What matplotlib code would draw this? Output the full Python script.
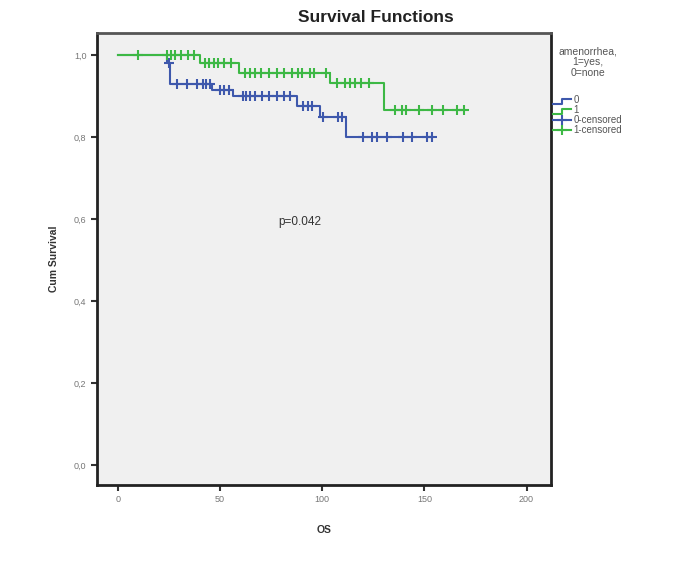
import numpy as np
import matplotlib
matplotlib.use("Agg")
import matplotlib.pyplot as plt
from matplotlib.lines import Line2D
from matplotlib.legend_handler import HandlerBase

plt.rcParams['font.family'] = ['Liberation Sans', 'DejaVu Sans']

# group 0 (amenorrhea = none)
t0_events = [0, 24, 25.5, 46, 56.5, 87.5, 99, 111.5]
s0_events = [1.0, 0.982, 0.930, 0.915, 0.900, 0.877, 0.848, 0.800]
t0_end = 153.5
t0_cens = [25, 29, 34, 38.5, 41.5, 43, 45, 50, 52, 54.5, 61, 62.5, 64.5, 67,
           70.5, 74, 78, 81.5, 84, 90.5, 93, 95, 100.5, 107.5, 109.5, 120,
           124.5, 127, 131.5, 139.5, 144, 151.5, 153.5]

# group 1 (amenorrhea = yes)
t1_events = [0, 40, 59, 104, 130]
s1_events = [1.0, 0.980, 0.956, 0.931, 0.866]
t1_end = 169.5
t1_cens = [10, 24, 26, 28, 31, 34.5, 37, 42.5, 44.5, 47, 49, 52, 55.5, 62,
           64.5, 67, 70, 74, 78, 81.5, 85, 88, 90, 94, 96, 102, 107, 111,
           113.5, 116, 119, 123, 135.5, 139, 141, 147.5, 153.5, 159, 166, 169.5]

yticks = [0.0, 0.2, 0.4, 0.6, 0.8, 1.0]
ytick_labels = ['0,0', '0,2', '0,4', '0,6', '0,8', '1,0']
xticks = [0, 50, 100, 150, 200]

blue = '#3E58AC'
green = '#3DB845'


def surv_at(times, surv, t):
    idx = np.searchsorted(times, t, side='right') - 1
    return np.array(surv)[idx]


class StepHandler(HandlerBase):
    # small step symbol like the SPSS legend
    def create_artists(self, legend, orig, xd, yd, w, h, fontsize, trans):
        xs = [xd, xd + w * 0.5, xd + w * 0.5, xd + w]
        ys = [yd, yd, yd + h, yd + h]
        ln = Line2D(xs, ys, color=orig.get_color(), lw=orig.get_linewidth(),
                    transform=trans)
        return [ln]


fig = plt.figure(figsize=(6.85, 5.78), dpi=100)
ax = fig.add_axes([0.1416, 0.1609, 0.6628, 0.782])
ax.set_facecolor('#f0f0f0')

for tev, sev, tend, tc, col in [(t0_events, s0_events, t0_end, t0_cens, blue),
                                (t1_events, s1_events, t1_end, t1_cens, green)]:
    xs = list(tev) + [tend]
    ys = list(sev) + [sev[-1]]
    ax.step(xs, ys, where='post', color=col, lw=1.5)
    ax.plot(tc, surv_at(tev, sev, tc), ls='none', marker='+', ms=6.5,
            mew=1.5, color=col)

ax.text(89, 0.593, 'p=0.042', fontsize=8.5, color='#333333',
        ha='center', va='center')

ax.set_xlim(-10.3, 212)
ax.set_ylim(-0.049, 1.054)
ax.set_xticks(xticks)
ax.set_yticks(yticks)
ax.set_yticklabels(ytick_labels)
ax.tick_params(labelsize=6.5, colors='#333333', labelcolor='#777777',
               length=4, width=1.5)
for sp in ax.spines.values():
    sp.set_linewidth(2)
    sp.set_color('#222222')
ax.spines['top'].set_color('#555555')

ax.set_xlabel('OS', fontsize=7.5, fontweight='bold', color='#333333', labelpad=15)
ax.set_ylabel('Cum Survival', fontsize=7.5, fontweight='bold', color='#333333',
              labelpad=11)

fig.text(376 / 685, 1 - 17 / 578, 'Survival Functions', fontsize=12.5,
         fontweight='bold', ha='center', va='center', color='#222222')

h0 = Line2D([], [], color=blue, lw=1.5)
h1 = Line2D([], [], color=green, lw=1.5)
handles = [h0, h1,
           Line2D([], [], color=blue, lw=1.5, marker='+', ms=7, mew=1.5),
           Line2D([], [], color=green, lw=1.5, marker='+', ms=7, mew=1.5)]
leg = fig.legend(handles, ['0', '1', '0-censored', '1-censored'],
                 title='amenorrhea,\n1=yes,\n0=none',
                 handler_map={h0: StepHandler(), h1: StepHandler()},
                 loc='upper left', bbox_to_anchor=(553 / 685, 1 - 46 / 578),
                 frameon=False, fontsize=7, title_fontsize=7.5,
                 handlelength=1.8, handleheight=0.42, handletextpad=0.3,
                 labelspacing=0.0, borderaxespad=0, borderpad=0)
leg.get_title().set_color('#555555')
leg.get_title().set_multialignment('center')
leg.get_title().set_linespacing(1.15)
leg._legend_box.sep = 12
for t in leg.get_texts():
    t.set_color('#555555')

fig.savefig('out.png', dpi=100)
